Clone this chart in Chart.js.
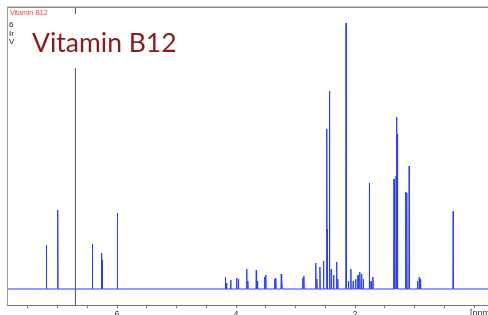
<!DOCTYPE html>
<html>
<head>
<meta charset="utf-8">
<script src="https://cdn.jsdelivr.net/npm/chart.js@4.4.1/dist/chart.umd.min.js"></script>
<style>
  html, body { margin: 0; padding: 0; background: #fff; overflow: hidden; }
  #wrap { position: relative; width: 488px; height: 322px; }
  #c { position: absolute; left: 0; top: 0; }
  .t { position: absolute; white-space: nowrap; }
  #titleBox { position: absolute; left: 22px; top: 14px; width: 166px; height: 54px; background: #fff; }
  #title { left: 32px; top: 29px; font-family: Lato, 'Open Sans', sans-serif; font-size: 26.5px; line-height: 27px; color: #8b1a1a; }
  #small1 { left: 10px; top: 9px; font-family: 'Liberation Sans', sans-serif; font-size: 7px; line-height: 8px; color: #f03c3c; }
  .blk { left: 9px; font-family: 'Liberation Sans', sans-serif; font-size: 8px; line-height: 8px; color: #222; }
  #ppm { left: 470px; top: 308px; font-family: 'Liberation Sans', sans-serif; font-size: 9px; line-height: 10px; color: #333; }
</style>
</head>
<body>
<div id="wrap">
  <canvas id="c" width="488" height="322"></canvas>
  <div id="titleBox"></div>
  <div class="t" id="title">Vitamin B12</div>
  <div class="t" id="small1">Vitamin B12</div>
  <div class="t blk" style="top:21px">6</div>
  <div class="t blk" style="top:30px">Ir</div>
  <div class="t blk" style="top:38px">V</div>
  <div class="t" id="ppm">[ppm]</div>
</div>
<script>
// ---- data ----
const peakPpm = [7.188, 6.997, 6.415, 6.264, 6.250, 5.995,
  4.180, 4.160, 4.090, 3.990, 3.960, 3.820, 3.800, 3.660, 3.640, 3.520, 3.500,
  3.350, 3.330, 3.240, 3.230, 2.880, 2.860, 2.660, 2.640, 2.590, 2.530,
  2.475, 2.465, 2.430, 2.400, 2.360, 2.310, 2.290, 2.150, 2.110, 2.070, 2.030,
  1.990, 1.950, 1.920, 1.890, 1.860, 1.760, 1.730, 1.700,
  1.345, 1.310, 1.295, 1.285, 1.150, 1.130, 1.090, 0.950, 0.920, 0.900, 0.350];
const peakHeight = [44, 79, 45, 36, 29, 76,
  12, 6, 9, 11, 10, 20, 8, 19, 8, 12, 14,
  10, 11, 15, 9, 11, 13, 26, 10, 22, 28,
  160, 60, 198, 20, 14, 27, 10, 266, 8, 20, 8,
  10, 14, 17, 15, 10, 106, 8, 12,
  110, 113, 172, 155, 97, 96, 123, 8, 12, 10, 78];
const cursorPpm = 6.70;
const xLabelValues = [6, 4, 2];
const xLabels = ['6', '4', '2'];
const ppmMin = -0.235, ppmMax = 7.85;

// build the spectrum trace: baseline -> stick -> baseline for each peak
const order = peakPpm.map((p, i) => i).sort((a, b) => peakPpm[b] - peakPpm[a]);
const trace = [{x: ppmMax, y: 0}];
const hw = 0.005;
order.forEach(i => {
  trace.push({x: peakPpm[i] + hw, y: 0});
  trace.push({x: peakPpm[i], y: peakHeight[i]});
  trace.push({x: peakPpm[i] - hw, y: 0});
});
trace.push({x: ppmMin, y: 0});

const framePlugin = {
  id: 'frame',
  afterDraw(chart) {
    const {ctx, chartArea: a} = chart;
    ctx.save();
    ctx.lineWidth = 1;
    ctx.strokeStyle = '#c8c8c8';
    ctx.beginPath(); ctx.moveTo(a.left, 6.5); ctx.lineTo(a.right, 6.5); ctx.stroke();
    ctx.strokeStyle = '#8a8a8a';
    ctx.beginPath(); ctx.moveTo(a.left, 7.5); ctx.lineTo(a.right, 7.5); ctx.stroke();
    ctx.strokeStyle = '#9a9a9a';
    ctx.beginPath(); ctx.moveTo(a.left + 0.5, 7); ctx.lineTo(a.left + 0.5, a.bottom); ctx.stroke();
    ctx.restore();
  }
};

new Chart(document.getElementById('c'), {
  type: 'line',
  data: {
    datasets: [
      { data: trace, borderColor: '#2a3cff', borderWidth: 1, pointRadius: 0, tension: 0, fill: false, order: 2 },
      { data: [{x: cursorPpm, y: -16}, {x: cursorPpm, y: 282}], borderColor: '#505050', borderWidth: 1, pointRadius: 0, fill: false, order: 1 }
    ]
  },
  options: {
    responsive: false,
    devicePixelRatio: 1,
    animation: false,
    parsing: false,
    normalized: true,
    layout: { padding: { left: 7, top: 7, right: 0, bottom: 0 } },
    plugins: { legend: { display: false }, tooltip: { enabled: false }, title: { display: false } },
    scales: {
      x: {
        type: 'linear', reverse: true, min: ppmMin, max: ppmMax,
        ticks: {
          stepSize: 0.5, autoSkip: false, includeBounds: false, maxRotation: 0, minRotation: 0,
          padding: 1, color: '#333', font: { family: 'Liberation Sans', size: 9 },
          callback: v => { const k = xLabelValues.indexOf(v); return k >= 0 ? xLabels[k] : ''; }
        },
        grid: { drawOnChartArea: false, tickLength: 3, color: '#777' },
        border: { color: '#777' },
        afterFit: s => { s.height = 17; }
      },
      y: { display: false, min: -16, max: 282 }
    }
  },
  plugins: [framePlugin]
});
</script>
</body>
</html>
